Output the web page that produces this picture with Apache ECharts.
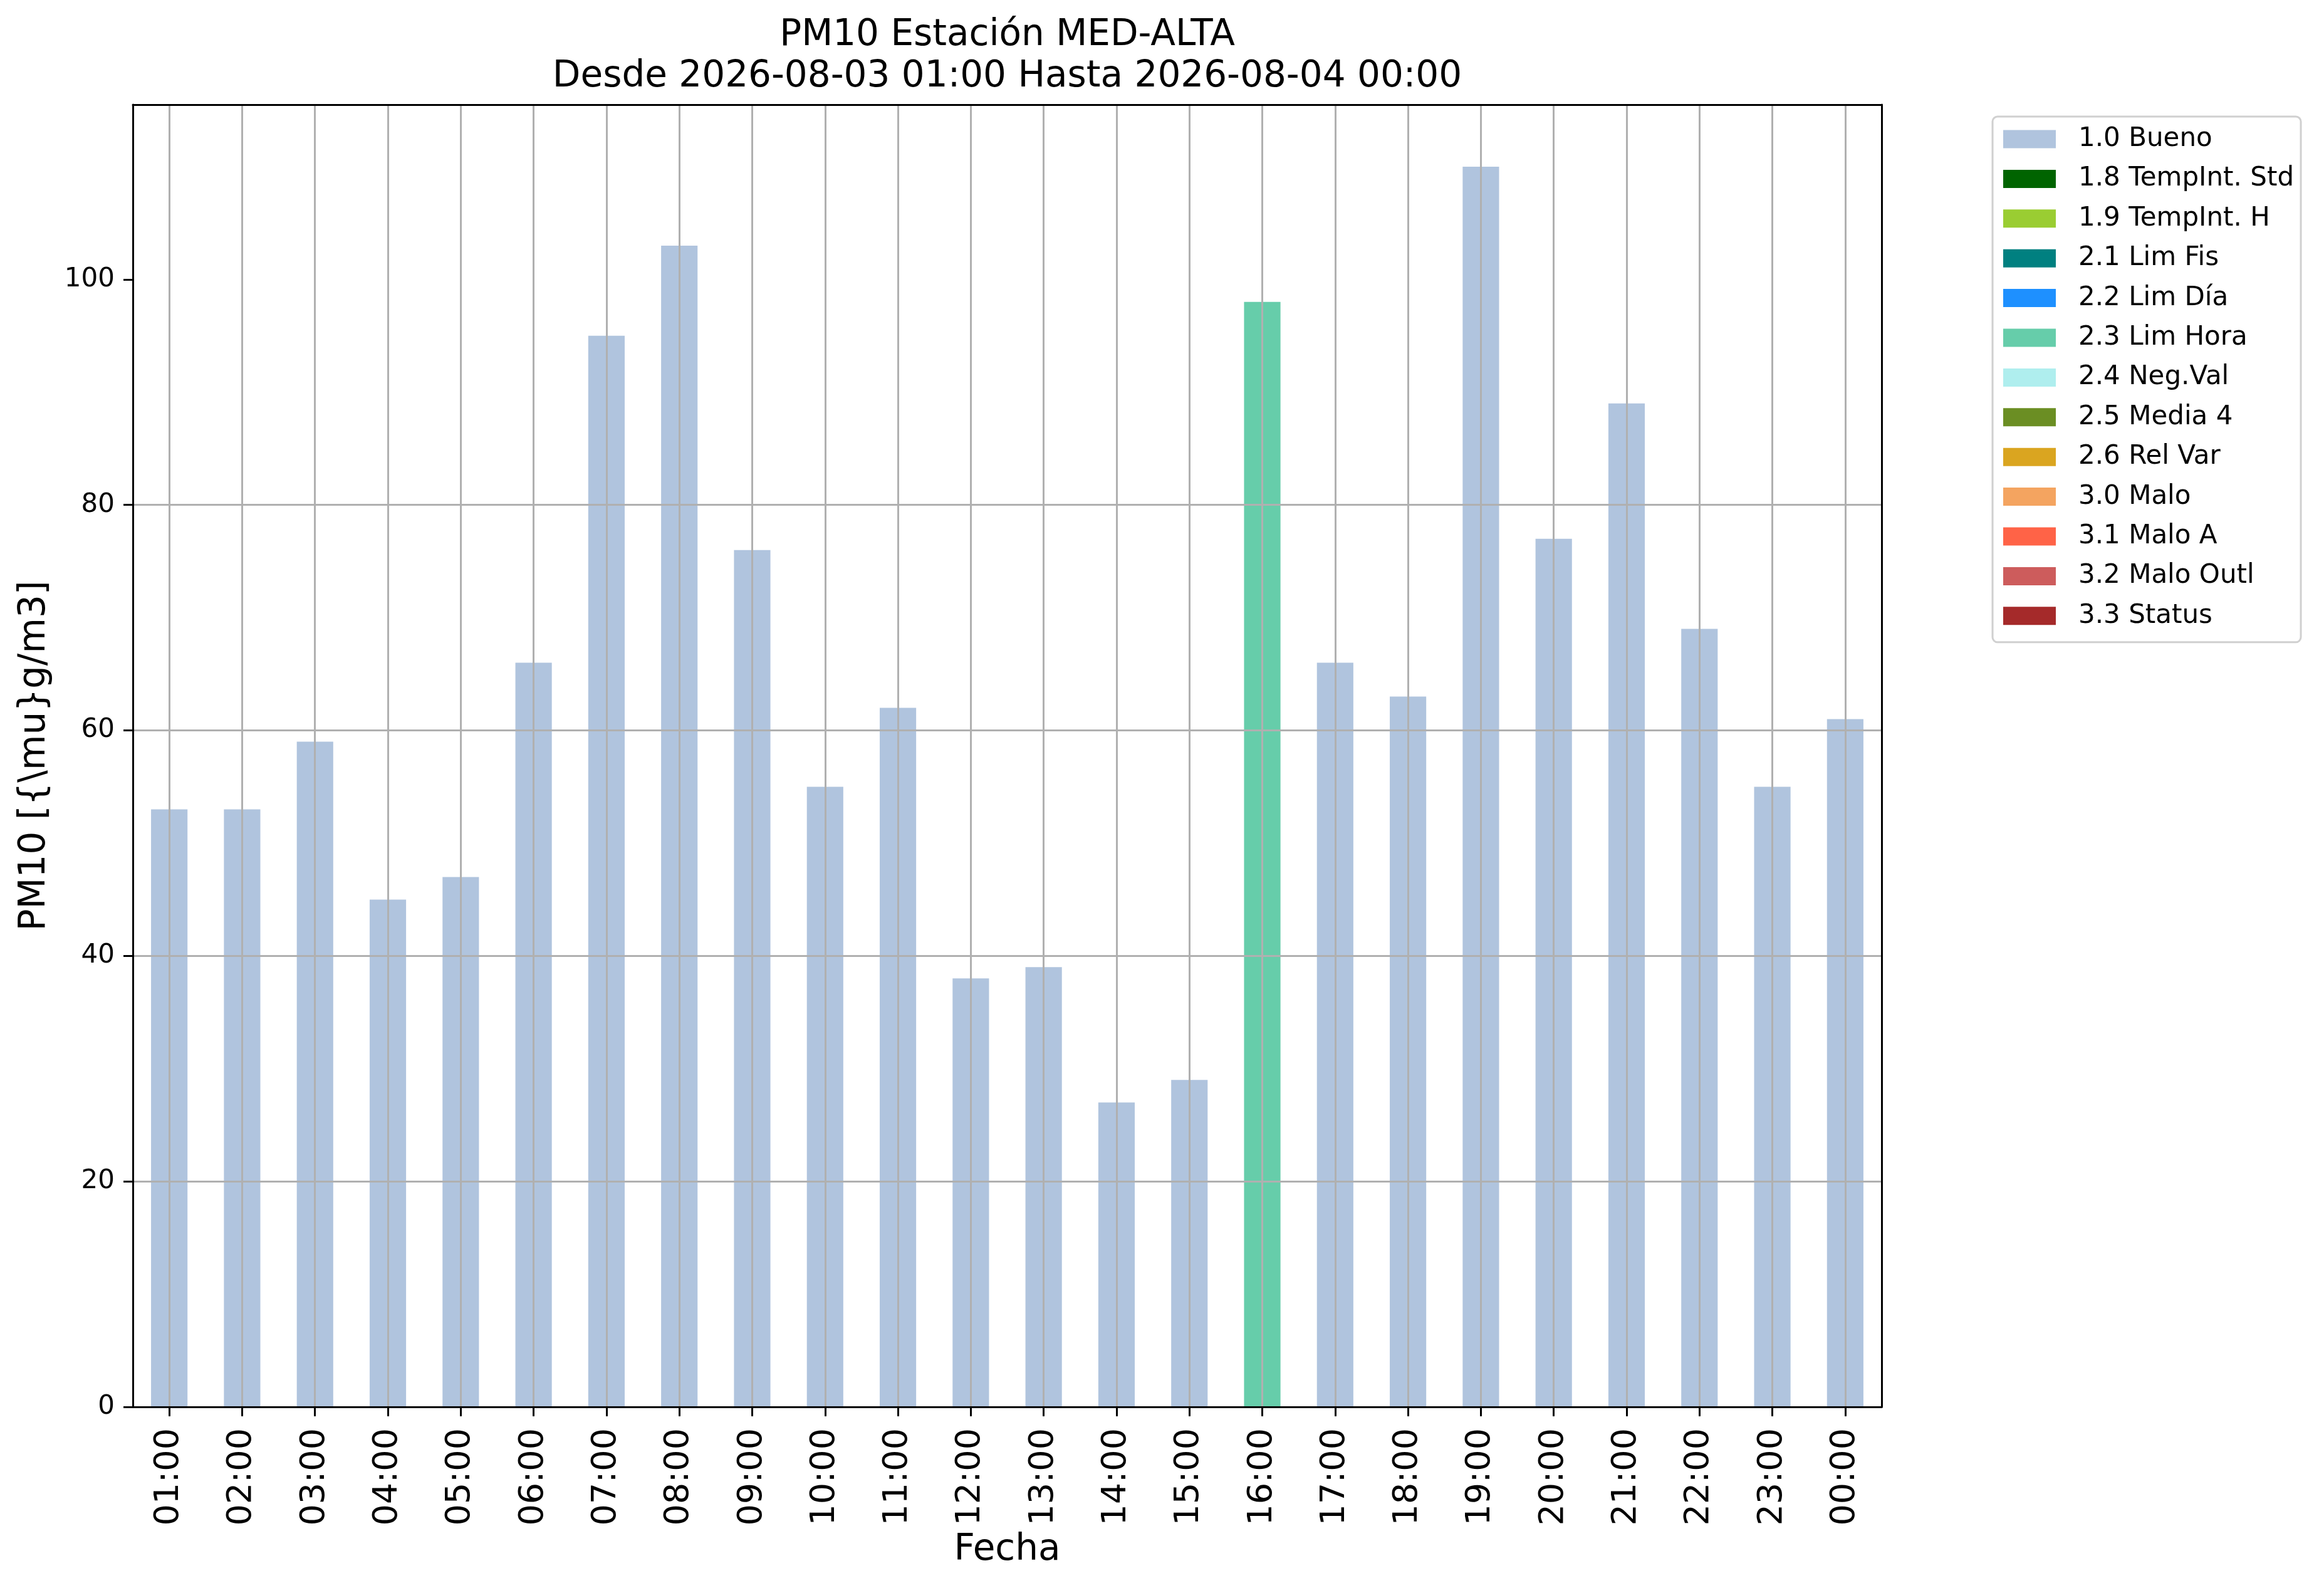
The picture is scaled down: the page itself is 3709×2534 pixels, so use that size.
<!DOCTYPE html>
<html>
<head>
<meta charset="utf-8">
<script src="https://cdn.jsdelivr.net/npm/echarts@6/dist/echarts.min.js"></script>
<style>
  html, body { margin: 0; padding: 0; background: #ffffff; }
  #chart { width: 3709px; height: 2534px; }
</style>
</head>
<body>
<div id="chart"></div>
<script>
// ---------- data ----------
const categories = ['01:00','02:00','03:00','04:00','05:00','06:00','07:00','08:00','09:00','10:00','11:00','12:00',
                    '13:00','14:00','15:00','16:00','17:00','18:00','19:00','20:00','21:00','22:00','23:00','00:00'];
const buenoValues = [53,53,59,45,47,66,95,103,76,55,62,38,39,27,29,null,66,63,110,77,89,69,55,61];
const limHoraValues = [null,null,null,null,null,null,null,null,null,null,null,null,null,null,null,98,null,null,null,null,null,null,null,null];
const statusNames = ['1.0 Bueno','1.8 TempInt. Std','1.9 TempInt. H','2.1 Lim Fis','2.2 Lim Día','2.3 Lim Hora',
                     '2.4 Neg.Val','2.5 Media 4','2.6 Rel Var','3.0 Malo','3.1 Malo A','3.2 Malo Outl','3.3 Status'];
const yTicks = [0, 20, 40, 60, 80, 100];
const yMax = 115.5;
const titleText = 'PM10 Estación MED-ALTA\nDesde 2026-08-03 01:00 Hasta 2026-08-04 00:00';
const yName = 'PM10 [{\\mu}g/m3]';
const xName = 'Fecha';

// ---------- styles ----------
const statusColors = ['#B0C4DE','#006400','#9ACD32','#008080','#1E90FF','#66CDAA',
                      '#AFEEEE','#6B8E23','#DAA520','#F4A460','#FF6347','#CD5C5C','#A52A2A'];
const seriesData = {
  '1.0 Bueno': buenoValues,
  '2.3 Lim Hora': limHoraValues
};
const FONT = 'DejaVu Sans';
const GRID = { left: 212, right: 706, top: 167, bottom: 289 };
const plotCenterX = GRID.left + (3709 - GRID.left - GRID.right) / 2;

const series = statusNames.map((name, i) => {
  const s = {
    name: name,
    type: 'bar',
    stack: 'total',
    barWidth: '50%',
    data: seriesData[name] || [],
    itemStyle: { color: statusColors[i] },
    emphasis: { disabled: true },
    animation: false
  };
  if (i === 0) {
    s.markLine = {
      silent: true,
      symbol: ['none', 'none'],
      label: { show: false },
      lineStyle: { color: '#b0b0b0', width: 3, type: 'solid' },
      emphasis: { disabled: true },
      animation: false,
      data: categories.map(c => ({ xAxis: c }))
    };
  }
  return s;
});

const chart = echarts.init(document.getElementById('chart'), null, { renderer: 'canvas' });
chart.setOption({
  backgroundColor: '#ffffff',
  animation: false,
  textStyle: { fontFamily: FONT },
  title: {
    text: titleText,
    left: plotCenterX,
    top: 24,
    padding: 0,
    textAlign: 'center',
    textStyle: { fontFamily: FONT, fontSize: 58, fontWeight: 'normal', color: '#000', lineHeight: 66 }
  },
  legend: {
    orient: 'vertical',
    left: 3180,
    top: 186,
    padding: [15, 11, 21, 17],
    itemWidth: 84,
    itemHeight: 29,
    itemGap: 21.4,
    icon: 'rect',
    selectedMode: false,
    backgroundColor: '#ffffff',
    borderColor: '#d0d0d0',
    borderWidth: 3,
    borderRadius: 8,
    data: statusNames,
    textStyle: { fontFamily: FONT, fontSize: 42, color: '#000', lineHeight: 42, padding: [0, 0, 0, 31] }
  },
  grid: { left: GRID.left, right: GRID.right, top: GRID.top, bottom: GRID.bottom, containLabel: false, show: false },
  xAxis: [{
    type: 'category',
    data: categories,
    position: 'bottom',
    boundaryGap: true,
    z: 6,
    name: xName,
    nameLocation: 'middle',
    nameGap: 200,
    nameTextStyle: { fontFamily: FONT, fontSize: 58, color: '#000' },
    axisLine: { show: true, onZero: false, lineStyle: { color: '#000', width: 3 } },
    axisTick: { show: true, alignWithLabel: true, length: 15, lineStyle: { color: '#000', width: 3 } },
    axisLabel: { show: true, rotate: 90, interval: 0, margin: 34, fontFamily: FONT, fontSize: 54, color: '#000' },
    splitLine: { show: false }
  }, {
    type: 'category',
    data: categories,
    position: 'top',
    z: 6,
    axisLine: { show: true, onZero: false, lineStyle: { color: '#000', width: 3 } },
    axisTick: { show: false },
    axisLabel: { show: false },
    splitLine: { show: false }
  }],
  yAxis: [{
    type: 'value',
    position: 'left',
    min: 0,
    max: yMax,
    interval: 20,
    z: 3,
    name: yName,
    nameLocation: 'middle',
    nameGap: 127,
    nameTextStyle: { fontFamily: FONT, fontSize: 58, color: '#000' },
    axisLine: { show: true, onZero: false, lineStyle: { color: '#000', width: 3 } },
    axisTick: { show: true, length: 15, lineStyle: { color: '#000', width: 3 }, customValues: yTicks },
    axisLabel: { show: true, margin: 29, fontFamily: FONT, fontSize: 42, color: '#000', customValues: yTicks },
    splitLine: { show: true, showMinLine: false, showMaxLine: false, lineStyle: { color: '#b0b0b0', width: 3, type: 'solid' } }
  }, {
    type: 'value',
    position: 'right',
    min: 0,
    max: yMax,
    interval: 20,
    z: 6,
    axisLine: { show: true, onZero: false, lineStyle: { color: '#000', width: 3 } },
    axisTick: { show: false },
    axisLabel: { show: false },
    splitLine: { show: false }
  }],
  series: series
});
</script>
</body>
</html>
